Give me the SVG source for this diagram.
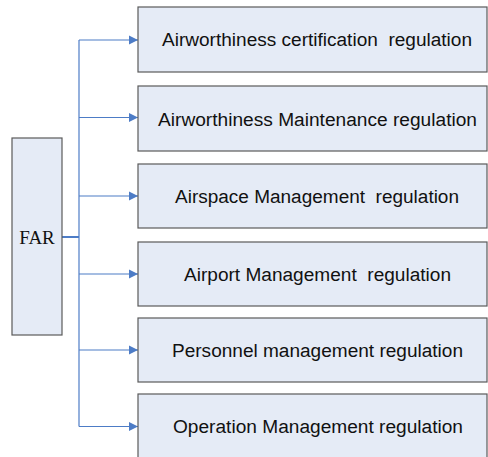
<svg xmlns="http://www.w3.org/2000/svg" width="488" height="457" viewBox="0 0 488 457">
  <style>
    .box { fill: #E5EBF6; stroke: #5A5A5A; stroke-width: 1.2; }
    .lbl { font-family: "Liberation Sans", Arial, sans-serif; font-size: 18px; fill: #111; white-space: pre; }
    .root { font-family: "Liberation Serif", "Times New Roman", serif; font-size: 19px; fill: #111; }
    .wire { fill: none; stroke: #4D7CC6; stroke-width: 1.2; }
  </style>
  <defs>
    <marker id="arrow" markerWidth="10" markerHeight="10" refX="9" refY="5" orient="auto" markerUnits="userSpaceOnUse">
      <path d="M0,0.5 L9,5 L0,9.5 Z" fill="#4D7CC6"/>
    </marker>
  </defs>
  <rect width="488" height="457" fill="#FFFFFF"/>

  <g id="connectors">
    <line class="wire" x1="62" y1="237" x2="79" y2="237" style="stroke-width:2"/>
    <line class="wire" x1="79" y1="40" x2="79" y2="426.5"/>
    <line class="wire" x1="79" y1="40" x2="138" y2="40" marker-end="url(#arrow)"/>
    <line class="wire" x1="79" y1="117.5" x2="138" y2="117.5" marker-end="url(#arrow)"/>
    <line class="wire" x1="79" y1="196" x2="138" y2="196" marker-end="url(#arrow)"/>
    <line class="wire" x1="79" y1="274" x2="138" y2="274" marker-end="url(#arrow)"/>
    <line class="wire" x1="79" y1="350" x2="138" y2="350" marker-end="url(#arrow)"/>
    <line class="wire" x1="79" y1="426.5" x2="138" y2="426.5" marker-end="url(#arrow)"/>
  </g>

  <g id="far">
    <rect class="box" x="12" y="138" width="50" height="197"/>
    <text class="root" x="37" y="243.5" text-anchor="middle">FAR</text>
  </g>

  <g id="certification">
    <rect class="box" x="138" y="7" width="349" height="65"/>
    <text class="lbl" x="162" y="46" textLength="310" lengthAdjust="spacingAndGlyphs" xml:space="preserve">Airworthiness certification  regulation</text>
  </g>

  <g id="maintenance">
    <rect class="box" x="138" y="86" width="349" height="65"/>
    <text class="lbl" x="158" y="125.5" textLength="319" lengthAdjust="spacingAndGlyphs">Airworthiness Maintenance regulation</text>
  </g>

  <g id="airspace">
    <rect class="box" x="138" y="164" width="349" height="64"/>
    <text class="lbl" x="175" y="202.5" textLength="284" lengthAdjust="spacingAndGlyphs" xml:space="preserve">Airspace Management  regulation</text>
  </g>

  <g id="airport">
    <rect class="box" x="138" y="242" width="349" height="64"/>
    <text class="lbl" x="184" y="280.5" textLength="267" lengthAdjust="spacingAndGlyphs" xml:space="preserve">Airport Management  regulation</text>
  </g>

  <g id="personnel">
    <rect class="box" x="138" y="318" width="349" height="64"/>
    <text class="lbl" x="172" y="356.5" textLength="291" lengthAdjust="spacingAndGlyphs">Personnel management regulation</text>
  </g>

  <g id="operation">
    <rect class="box" x="138" y="394" width="349" height="66"/>
    <text class="lbl" x="173" y="433" textLength="290" lengthAdjust="spacingAndGlyphs">Operation Management regulation</text>
  </g>
</svg>
